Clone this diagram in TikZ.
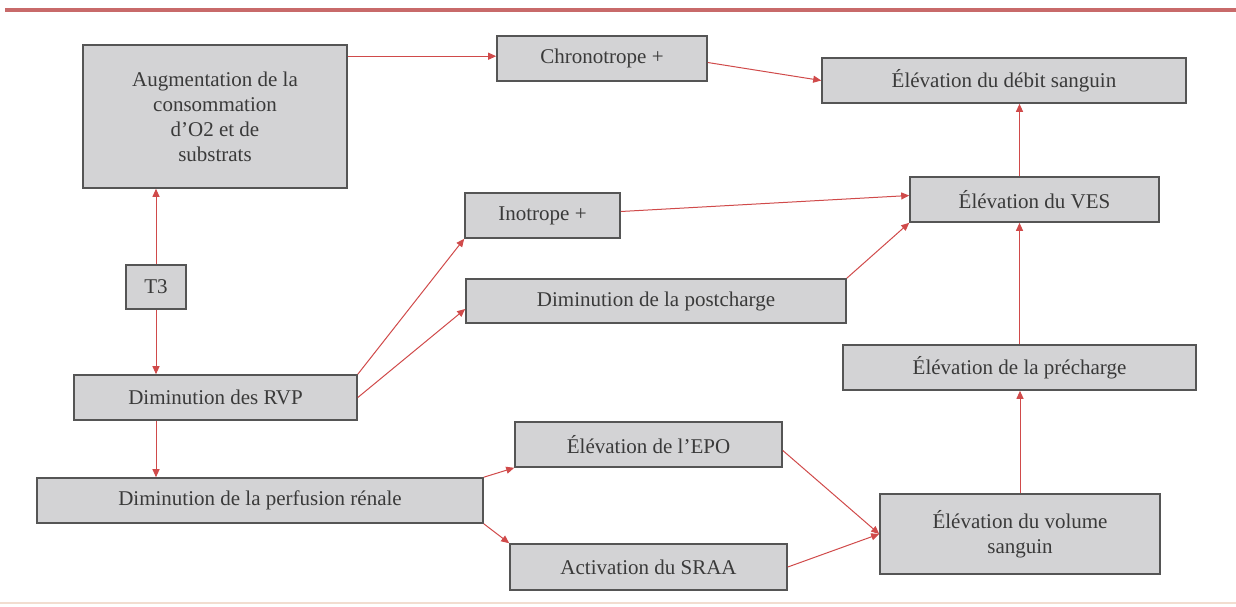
\documentclass[tikz,border=0pt]{standalone}
\usepackage{fontspec}
\setmainfont{Liberation Serif}
\usetikzlibrary{arrows.meta}
\definecolor{boxfill}{HTML}{D3D3D5}
\definecolor{boxline}{HTML}{555555}
\definecolor{txt}{HTML}{3A3A3A}
\definecolor{arr}{HTML}{D04A4A}
\definecolor{topline}{HTML}{C86A6A}
\definecolor{botline}{HTML}{F2DDD0}
\begin{document}
\begin{tikzpicture}[x=0.5pt,y=-0.5pt,
  box/.style={draw=boxline,fill=boxfill,line width=0.8pt,inner sep=0pt,
    text=txt,align=center,font=\fontsize{10.5}{12.5}\selectfont},
  link/.style={draw=arr,line width=0.5pt,-{Triangle[length=4pt,width=3.5pt]}}]
\useasboundingbox (0,0) rectangle (1236,606);
\draw[topline,line width=1.6pt] (5,10) -- (1236,10);
\draw[botline,line width=1.2pt] (0,603) -- (1236,603);
% nodes
\node[box,minimum width=132pt,minimum height=71.5pt] (A) at (215,116.5)
  {Augmentation de la\\consommation\\d'O2 et de\\substrats};
\node[box,minimum width=105pt,minimum height=22.5pt] (chrono) at (602,58.5) {Chronotrope +};
\node[box,minimum width=182pt,minimum height=22.5pt] (debit) at (1004,80.5) {Élévation du débit sanguin};
\node[box,minimum width=124.5pt,minimum height=22.5pt] (ves) at (1034.5,199.5) {Élévation du VES};
\node[box,minimum width=77.5pt,minimum height=22.5pt] (ino) at (542.5,215.5) {Inotrope +};
\node[box,minimum width=30pt,minimum height=22pt] (t3) at (156,287) {T3};
\node[box,minimum width=190pt,minimum height=22pt] (post) at (656,301) {Diminution de la postcharge};
\node[box,minimum width=176.5pt,minimum height=22.5pt] (prech) at (1019.5,367.5) {Élévation de la précharge};
\node[box,minimum width=141.5pt,minimum height=22.5pt] (rvp) at (215.5,397.5) {Diminution des RVP};
\node[box,minimum width=133.5pt,minimum height=22.5pt] (epo) at (648.5,444.5) {Élévation de l'EPO};
\node[box,minimum width=223pt,minimum height=22.5pt] (perf) at (260,500.5) {Diminution de la perfusion rénale};
\node[box,minimum width=138.5pt,minimum height=23pt] (sraa) at (648.5,567) {Activation du SRAA};
\node[box,minimum width=140pt,minimum height=40pt] (vol) at (1020,534) {Élévation du volume\\sanguin};
% connectors
\draw[link] ([yshift=-6pt]A.north east) -- ([yshift=-6pt]A.north east -| chrono.west);
\draw[link] ([yshift=-2pt]chrono.east) -- (debit.west);
\draw[link] ([yshift=2pt]ino.east) -- ([yshift=2pt]ves.west);
\draw[link] (post.north east) -- (ves.south west);
\draw[link] (t3.north) -- (t3.north |- A.south);
\draw[link] (t3.south) -- (t3.south |- rvp.north);
\draw[link] (rvp.north east) -- (ino.south west);
\draw[link] (rvp.east) -- ([yshift=-4pt]post.west);
\draw[link] (t3.south |- rvp.south) -- (t3.south |- perf.north);
\draw[link] (perf.north east) -- (epo.south west);
\draw[link] (perf.south east) -- (sraa.north west);
\draw[link] ([yshift=-3pt]epo.east) -- (vol.west);
\draw[link] (sraa.east) -- (vol.west);
\draw[link] (prech.north) -- (prech.north |- ves.south);
\draw[link] (vol.north) -- (vol.north |- prech.south);
\draw[link] (prech.north |- ves.north) -- (prech.north |- debit.south);
\end{tikzpicture}
\end{document}
